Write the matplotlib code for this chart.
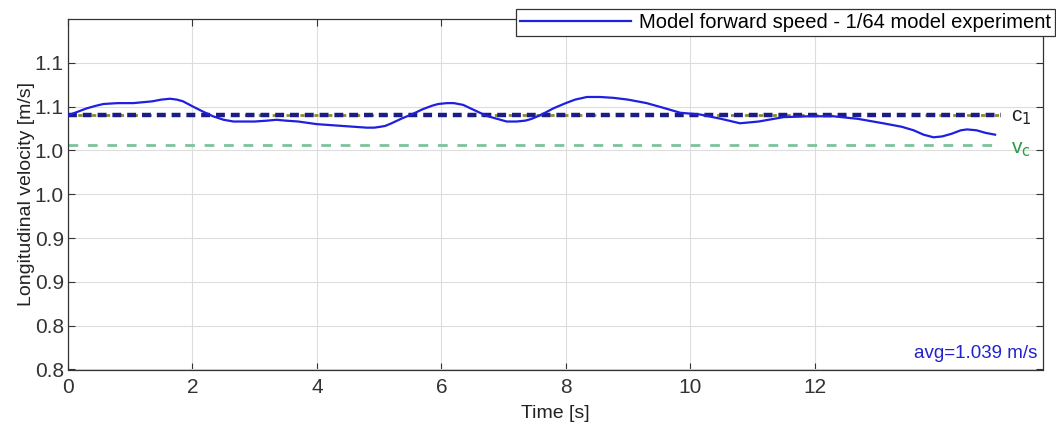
import matplotlib
matplotlib.use("Agg")
import matplotlib.pyplot as plt

plt.rcParams['font.family'] = ['Liberation Sans', 'DejaVu Sans']

# medicion de velocidad
tiempo = [0.0, 0.15, 0.3, 0.45, 0.57, 0.8, 1.05, 1.2, 1.35, 1.5, 1.64, 1.75, 1.85,
          2.01, 2.15, 2.33, 2.5, 2.66, 2.85, 3.0, 3.2, 3.35, 3.5, 3.7, 4.0, 4.4,
          4.6, 4.8, 4.92, 5.02, 5.1, 5.2, 5.35, 5.55, 5.7, 5.85, 5.95, 6.09, 6.2,
          6.35, 6.5, 6.62, 6.75, 6.9, 7.05, 7.21, 7.35, 7.45, 7.55, 7.64, 7.8,
          8.0, 8.15, 8.34, 8.55, 8.77, 9.0, 9.3, 9.6, 9.84, 10.16, 10.5, 10.8,
          11.1, 11.5, 11.9, 12.3, 12.7, 13.1, 13.4, 13.59, 13.75, 13.91, 14.05,
          14.2, 14.35, 14.45, 14.6, 14.75, 14.9]
velocidad = [1.090, 1.094, 1.098, 1.101, 1.103, 1.104, 1.104, 1.105, 1.106, 1.108,
             1.109, 1.108, 1.106, 1.100, 1.095, 1.089, 1.085, 1.083, 1.083, 1.083,
             1.084, 1.085, 1.084, 1.083, 1.080, 1.078, 1.077, 1.076, 1.076, 1.077,
             1.078, 1.081, 1.086, 1.092, 1.097, 1.101, 1.103, 1.104, 1.104, 1.102,
             1.097, 1.093, 1.089, 1.086, 1.083, 1.083, 1.084, 1.086, 1.089, 1.092,
             1.098, 1.104, 1.108, 1.111, 1.111, 1.110, 1.108, 1.104, 1.098, 1.093,
             1.091, 1.086, 1.081, 1.083, 1.088, 1.089, 1.089, 1.086, 1.081, 1.077,
             1.073, 1.068, 1.065, 1.066, 1.069, 1.073, 1.074, 1.073, 1.070, 1.068]
c1 = 1.091
vc = 1.056
t_ref = [0.0, 15.0]
promedio = 1.039

yticks = [0.80, 0.85, 0.90, 0.95, 1.00, 1.05, 1.10, 1.15]
yticklabels = ['0.8', '0.8', '0.9', '0.9', '1.0', '1.0', '1.1', '1.1']
xticks = [0, 2, 4, 6, 8, 10, 12]

fig = plt.figure(figsize=(10.56, 4.26), dpi=100)
ax = fig.add_axes([68 / 1056, 1 - 369.5 / 426, (1043 - 68) / 1056, (369.5 - 19) / 426])

ax.plot(t_ref, [vc, vc], color='#7cc39c', linestyle=(0, (3.5, 3.5)), linewidth=2, zorder=2)
ax.plot(t_ref, [c1, c1], color='#8c8c2c', linestyle=(-3.5, (1.5, 3.5)), linewidth=2, zorder=2)
ax.plot(t_ref, [c1, c1], color='#1c1c86', linestyle=(0, (2, 1.33)), linewidth=3.2, zorder=3)
linea, = ax.plot(tiempo, velocidad, color='#1f1fe0', linewidth=1.6, zorder=4,
                 label='Model forward speed - 1/64 model experiment')

ax.text(15.15, c1 - 0.003, 'c$_1$', color='#222222', fontsize=15, va='center', ha='left')
ax.text(15.15, vc - 0.005, 'v$_\\mathrm{c}$', color='#2e9a4a', fontsize=15, va='center', ha='left')
ax.text(15.58, 0.808, 'avg=%.3f m/s' % promedio, color='#2222cc', fontsize=13.5,
        ha='right', va='bottom')

ax.set_xlim(0, 15.67)
ax.set_ylim(0.8, 1.2)
ax.set_xticks(xticks)
ax.set_yticks(yticks)
ax.set_yticklabels(yticklabels)
ax.tick_params(direction='in', top=True, right=True, labelsize=15, colors='#333333',
               length=5, width=0.8)
ax.tick_params(axis='x', pad=6)
ax.tick_params(axis='y', pad=3)
ax.grid(True, color='#dddddd', linewidth=0.8)
ax.set_axisbelow(True)
for s in ax.spines.values():
    s.set_color('#333333')
    s.set_linewidth(0.9)

ax.set_xlabel('Time [s]', fontsize=14, color='#222222', labelpad=6)
ax.set_ylabel('Longitudinal velocity [m/s]', fontsize=14, color='#222222', labelpad=0)

leg = fig.legend(handles=[linea], loc='upper right', bbox_to_anchor=(1055 / 1056, 1 - 9 / 426),
                 fontsize=14.5, frameon=True, fancybox=False, edgecolor='#333333',
                 framealpha=1, borderpad=0.2, handlelength=5.5, handletextpad=0.4,
                 borderaxespad=0)
leg.get_frame().set_linewidth(0.9)

fig.savefig('out.png', dpi=100)
